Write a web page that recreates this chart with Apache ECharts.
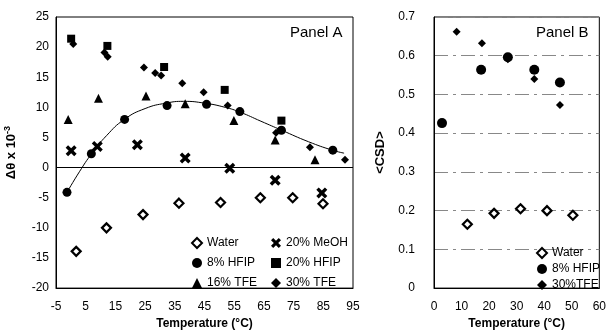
<!DOCTYPE html>
<html>
<head>
<meta charset="utf-8">
<script src="https://cdn.jsdelivr.net/npm/echarts@6/dist/echarts.min.js"></script>
<style>
  html, body { margin: 0; padding: 0; background: #fff; }
  #chart { width: 609px; height: 335px; }
</style>
</head>
<body>
<div id="chart"></div>
<script>
// Panel A: delta theta x 10^-3 vs temperature
const waterA = [[1.8, -13.9], [12, -10], [24.3, -7.8], [36.4, -5.9], [50.4, -5.8], [63.8, -5], [74.7, -5], [84.9, -6]]
const meohA = [[0.1, 2.8], [8.9, 3.5], [22.4, 3.8], [38.5, 1.6], [53.5, -0.1], [68.8, -2.1], [84.5, -4.2]]
const hfip8A = [[-1.3, -4.1], [6.9, 2.3], [18.1, 8.0], [32.4, 10.3], [45.7, 10.5], [56.9, 9.3], [70.9, 6.2], [88.2, 2.9]]
const hfip20A = [[0.1, 21.4], [12.3, 20.2], [31.4, 16.7], [51.8, 12.9], [70.9, 7.8]]
const tfe16A = [[-0.9, 8.0], [9.3, 11.5], [25.3, 11.9], [38.5, 10.6], [54.9, 7.8], [68.8, 4.6], [82.2, 1.3]]
const tfe30A = [[0.8, 20.5], [11.3, 19.1], [12.4, 18.4], [24.6, 16.6], [28.4, 15.7], [30.4, 15.3], [37.5, 14.0],
  [44.7, 12.5], [52.8, 10.3], [69.1, 5.8], [80.5, 3.4], [92.3, 1.3]]
// fitted curve through the 8% HFIP points
const fitA = [[-1.3, -4.1], [3, -0.6], [7, 2.3], [12, 5.3], [18, 8], [25, 9.8], [32, 10.7], [38, 11], [45, 10.7],
  [52, 10], [57, 9.2], [64, 7.7], [71, 6.2], [80, 4.3], [88, 2.9], [92, 2.4]]

// Panel B: <CSD> vs temperature
const waterB = [[12.1, 0.165], [21.8, 0.193], [31.4, 0.205], [41, 0.2], [50.4, 0.188]]
const hfip8B = [[2.9, 0.426], [17.1, 0.564], [26.8, 0.596], [36.4, 0.564], [45.7, 0.531]]
const tfe30B = [[8.2, 0.662], [17.4, 0.632], [26.8, 0.591], [36.4, 0.54], [45.7, 0.473]]

const FONT = 'Liberation Sans, Arial, sans-serif'
// thick X, drawn as a filled outline
const XMARK = 'path://M0,2.2L2.2,0L5,2.8L7.8,0L10,2.2L7.2,5L10,7.8L7.8,10L5,7.2L2.2,10L0,7.8L2.8,5Z'

const chart = echarts.init(document.getElementById('chart'))

function xAxisOf(gridIndex, min, max, interval) {
  return {
    gridIndex, type: 'value', min, max, interval,
    name: 'Temperature (°C)', nameLocation: 'middle', nameGap: 26,
    nameTextStyle: { fontFamily: FONT, fontSize: 12, fontWeight: 'bold', color: '#000' },
    axisLine: { show: true, onZero: false, lineStyle: { color: '#000', width: 1 } },
    axisTick: { show: false },
    axisLabel: { fontFamily: FONT, fontSize: 12, color: '#000', margin: 13 },
    splitLine: { show: false }
  }
}

function pts(name, data, xi, symbol, size, open) {
  return {
    name, type: 'scatter', xAxisIndex: xi, yAxisIndex: xi, data, symbol, symbolSize: size,
    itemStyle: open
      ? { color: '#fff', borderColor: '#000', borderWidth: 2.2, opacity: 1 }
      : { color: '#000', opacity: 1 },
    z: 3
  }
}

const legendText = { fontFamily: FONT, fontSize: 12, color: '#000' }

chart.setOption({
  animation: false,
  grid: [
    { left: 56, top: 17, width: 297, height: 278, show: true, borderColor: '#000', borderWidth: 1 },
    { left: 434, top: 17, width: 168, height: 279, show: true, borderColor: '#000', borderWidth: 1 }
  ],
  xAxis: [xAxisOf(0, -5, 95, 10), xAxisOf(1, 0, 60, 10)],
  yAxis: [
    {
      gridIndex: 0, type: 'value', min: -20, max: 25, interval: 5,
      name: '{a|Δθ x 10}{s|-3}', nameLocation: 'middle', nameGap: 36,
      nameTextStyle: {
        rich: {
          a: { fontFamily: FONT, fontSize: 13, fontWeight: 'bold', color: '#000' },
          s: { fontFamily: FONT, fontSize: 9, fontWeight: 'bold', color: '#000', verticalAlign: 'top', padding: [0, 0, 8, 0] }
        }
      },
      axisLine: { show: true, onZero: false, lineStyle: { color: '#000' } },
      axisTick: { show: false },
      axisLabel: { fontFamily: FONT, fontSize: 12, color: '#000', margin: 7 },
      splitLine: { show: false }
    },
    {
      gridIndex: 1, type: 'value', min: 0, max: 0.7, interval: 0.1,
      name: '<CSD>', nameLocation: 'middle', nameGap: 47,
      nameTextStyle: { fontFamily: FONT, fontSize: 13, fontWeight: 'bold', color: '#000' },
      axisLine: { show: true, onZero: false, lineStyle: { color: '#000' } },
      axisTick: { show: false },
      axisLabel: { fontFamily: FONT, fontSize: 12, color: '#000', margin: 19 },
      splitLine: { show: true, lineStyle: { color: '#888', width: 1, type: [14, 5, 3, 5] } }
    }
  ],
  legend: [
    {
      data: ['Water', '8% HFIP', '16% TFE'], orient: 'vertical', left: 186, top: 232,
      itemWidth: 10, itemHeight: 10, itemGap: 8, textStyle: legendText
    },
    {
      data: ['20% MeOH', '20% HFIP', '30% TFE'], orient: 'vertical', left: 266, top: 232,
      itemWidth: 10, itemHeight: 10, itemGap: 8, textStyle: legendText
    },
    {
      data: ['Water', '8% HFIP', '30%TFE'], orient: 'vertical', left: 531, top: 242,
      itemWidth: 10, itemHeight: 10, itemGap: 4, itemTextGap: 3, textStyle: legendText
    }
  ],
  graphic: [
    { type: 'text', left: 290, top: 25, style: { text: 'Panel A', font: '15px ' + FONT, fill: '#000' } },
    { type: 'text', left: 536, top: 25, style: { text: 'Panel B', font: '15px ' + FONT, fill: '#000' } }
  ],
  series: [
    {
      type: 'line', xAxisIndex: 0, yAxisIndex: 0, data: fitA, smooth: true, showSymbol: false,
      lineStyle: { color: '#000', width: 1 }, silent: true, z: 2,
      markLine: {
        silent: true, symbol: 'none', label: { show: false },
        lineStyle: { color: '#000', width: 1, type: 'solid' },
        data: [{ yAxis: 0 }]
      }
    },
    pts('Water', waterA, 0, 'diamond', 9, true),
    pts('20% MeOH', meohA, 0, XMARK, 11, false),
    pts('8% HFIP', hfip8A, 0, 'circle', 9, false),
    pts('20% HFIP', hfip20A, 0, 'rect', 8, false),
    pts('16% TFE', tfe16A, 0, 'triangle', 9, false),
    pts('30% TFE', tfe30A, 0, 'diamond', 8, false),
    pts('Water', waterB, 1, 'diamond', 9, true),
    pts('8% HFIP', hfip8B, 1, 'circle', 10, false),
    pts('30%TFE', tfe30B, 1, 'diamond', 8, false)
  ]
})
</script>
</body>
</html>
